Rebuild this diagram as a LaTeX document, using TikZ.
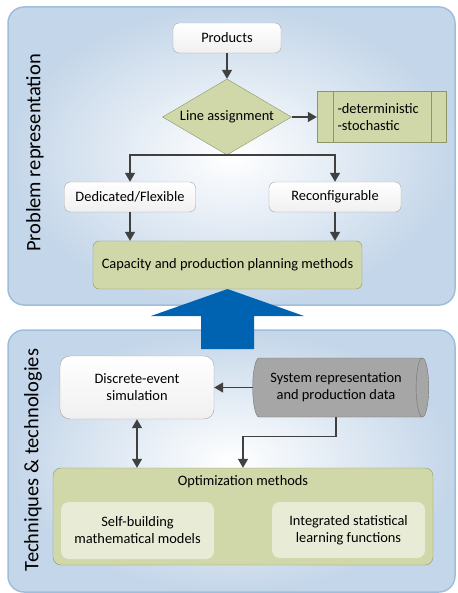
\documentclass[tikz,border=0pt]{standalone}
\usepackage{fontspec}
\setmainfont{Carlito}
\usetikzlibrary{shapes.geometric, arrows.meta, positioning}
\definecolor{PanelEdge}{RGB}{160,190,220}
\definecolor{PanelBlue}{RGB}{196,214,233}
\definecolor{OliveFill}{RGB}{208,216,170}
\definecolor{OliveLight}{RGB}{232,236,214}
\definecolor{OliveEdge}{RGB}{140,150,105}
\definecolor{BoxEdge}{RGB}{165,165,165}
\definecolor{DataGray}{RGB}{166,166,166}
\definecolor{DataEdge}{RGB}{115,115,115}
\definecolor{BigBlue}{RGB}{0,99,177}
\definecolor{LineGray}{RGB}{64,64,64}
\tikzstyle{panel} = [draw=PanelEdge, line width=1.5pt, rounded corners=16pt, inner color=white, outer color=PanelBlue]
\tikzstyle{whitebox} = [rectangle, rounded corners=6pt, draw=BoxEdge, top color=white, bottom color=black!6, text centered]
\tikzstyle{greenbox} = [rectangle, rounded corners=6pt, draw=OliveEdge, fill=OliveFill, text centered]
\tikzstyle{decision} = [diamond, draw=OliveEdge, fill=OliveFill, inner sep=0pt, aspect=1.7]
\tikzstyle{subbox} = [rectangle, rounded corners=8pt, fill=OliveLight, align=center]
\tikzstyle{datastore} = [cylinder, draw=DataEdge, fill=DataGray, aspect=0.35, align=center]
\tikzstyle{arrow} = [draw=LineGray, line width=1.4pt, -{Triangle[length=9pt,width=10pt]}]
\tikzstyle{sidelabel} = [rotate=90, font=\fontsize{20.5}{24}\selectfont]

\begin{document}
\begin{tikzpicture}[x=1pt, y=-1pt, font=\fontsize{14.4}{17}\selectfont]
  \useasboundingbox (0,0) rectangle (457,593);
  \path[panel] (8,7) rectangle (455,305);
  \path[panel] (8,330) rectangle (455,592);

  \node (probrep) [sidelabel] at (35,153) {Problem representation};
  \node (techs) [sidelabel] at (33,460) {Techniques \& technologies};

  \node (products) [whitebox, minimum width=108pt, minimum height=30pt] at (227,38) {Products};
  \node (assign) [decision, minimum width=129pt, minimum height=76pt] at (227,117) {Line assignment};
  \node (scen) [rectangle, draw=OliveEdge, fill=OliveFill, minimum width=129pt, minimum height=51pt, text width=88pt, align=left] at (381.5,117) {-deterministic\\-stochastic};
  \draw [OliveEdge] ([xshift=16pt]scen.north west) -- ([xshift=16pt]scen.south west);
  \draw [OliveEdge] ([xshift=-15pt]scen.north east) -- ([xshift=-15pt]scen.south east);
  \node (ded) [whitebox, minimum width=131pt, minimum height=30pt] at (130,197) {Dedicated/Flexible};
  \node (reconf) [whitebox, minimum width=132pt, minimum height=30pt] at (335,197) {Reconfigurable};
  \node (capacity) [greenbox, minimum width=269pt, minimum height=48pt] at (227.5,265) {Capacity and production planning methods};

  \fill [BigBlue] (151,316) -- (227.5,289) -- (304,316) -- (254,316) -- (254,349) -- (201,349) -- (201,316) -- cycle;

  \node (sim) [whitebox, rounded corners=10pt, minimum width=154pt, minimum height=63pt, align=center] at (137,387.5) {Discrete-event\\simulation};
  \node (data) [datastore, minimum width=59pt, minimum height=176pt] at (336,387.5) {System representation\\and production data};
  \node (optim) [greenbox, rounded corners=8pt, minimum width=380pt, minimum height=97pt, label={[anchor=north, yshift=-4pt]north:Optimization methods}] at (243,516.5) {};
  \node (selfbuild) [subbox, minimum width=153pt, minimum height=57pt] at (137.5,530.5) {Self-building\\mathematical models};
  \node (statlearn) [subbox, minimum width=153pt, minimum height=56pt] at (348.5,530) {Integrated statistical\\learning functions};

  \draw [arrow] (products) -- (assign);
  \draw [arrow] (assign) -- (scen);
  \draw [arrow] (assign.south) -| (ded.north);
  \draw [arrow] (assign.south) -| (reconf.north);
  \draw [arrow] (ded) -- (ded |- capacity.north);
  \draw [arrow] (reconf) -- (reconf |- capacity.north);
  \draw [arrow] (data) -- (sim);
  \draw [arrow, {Triangle[length=9pt,width=10pt]}-{Triangle[length=9pt,width=10pt]}] (sim) -- (sim |- optim.north);
  \draw [arrow] (data.south) -- ++(0,19) -| (optim.north);

\end{tikzpicture}
\end{document}
